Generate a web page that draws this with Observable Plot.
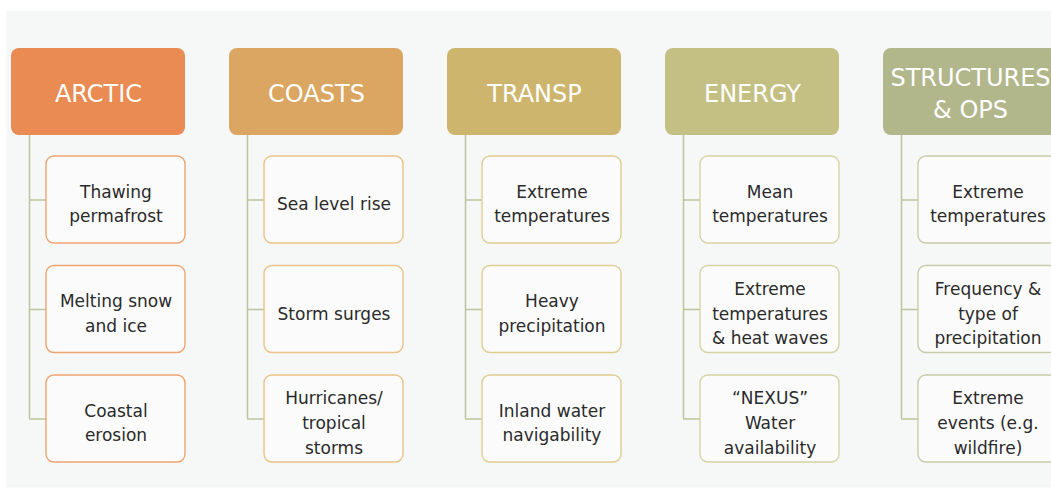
<!DOCTYPE html>
<html>
<head>
<meta charset="utf-8">
<script src="https://cdn.jsdelivr.net/npm/d3@7"></script>
<script src="https://cdn.jsdelivr.net/npm/@observablehq/plot@0.6"></script>
<style>
  html, body { margin: 0; padding: 0; background: #ffffff; overflow: hidden; }
  #chart svg { overflow: hidden; display: block; }
  g[aria-label="header-label"] text { letter-spacing: 0.5px; }
</style>
</head>
<body>
<div id="chart"></div>
<script>
// ---------- data ----------
const categories = ["ARCTIC", "COASTS", "TRANSP", "ENERGY", "STRUCTURES\n& OPS"];
const arcticImpacts = ["Thawing\npermafrost", "Melting snow\nand ice", "Coastal\nerosion"];
const coastsImpacts = ["Sea level rise", "Storm surges", "Hurricanes/\ntropical\nstorms"];
const transpImpacts = ["Extreme\ntemperatures", "Heavy\nprecipitation", "Inland water\nnavigability"];
const energyImpacts = ["Mean\ntemperatures", "Extreme\ntemperatures\n& heat waves", "\u201CNEXUS\u201D\nWater\navailability"];
const structuresImpacts = ["Extreme\ntemperatures", "Frequency &\ntype of\nprecipitation", "Extreme\nevents (e.g.\nwildfire)"];

// ---------- styles ----------
const headerColors = ["#e98b52", "#daa662", "#cdb56d", "#c4c083", "#b2b68b"];
const borderColors = ["#efa570", "#ecc286", "#dfcd91", "#d6d4a3", "#c9cca9"];
const lineColor = "#bcc49d";
const FONT = "DejaVu Sans";

// ---------- layout ----------
const W = 1051, H = 488;
const COL_X0 = 11, COL_STEP = 218, HEADER_W = 174;
const HEAD_Y1 = 48, HEAD_Y2 = 135;
const CHILD_OFF = 35, CHILD_W = 139, CHILD_Y1 = 156, ROW_STEP = 109.5, CHILD_H = 87;
const STEM_OFF = 18;
const colX = i => COL_X0 + COL_STEP * i;
const rowY = j => CHILD_Y1 + ROW_STEP * j;
const rowMid = j => rowY(j) + CHILD_H / 2;

const impactLists = [arcticImpacts, coastsImpacts, transpImpacts, energyImpacts, structuresImpacts];
const headers = categories.map((name, i) => ({name, col: i}));
const children = impactLists.flatMap((list, i) =>
  list.map((label, j) => ({name: categories[i], label, col: i, row: j})));

const childRects = categories.map((c, i) =>
  Plot.rect(children.filter(d => d.col === i), {
    x1: d => colX(d.col) + CHILD_OFF,
    x2: d => colX(d.col) + CHILD_OFF + CHILD_W,
    y1: d => rowY(d.row),
    y2: d => rowY(d.row) + CHILD_H,
    rx: 8,
    fill: "#fbfbfb",
    stroke: borderColors[i],
    strokeWidth: 1.4
  }));

const chart = Plot.plot({
  width: W,
  height: H,
  margin: 0,
  x: {domain: [0, W], range: [0, W], axis: null},
  y: {domain: [0, H], range: [0, H], axis: null},
  color: {domain: categories, range: headerColors},
  style: {background: "#ffffff", fontFamily: FONT},
  marks: [
    Plot.frame({fill: "#f6f7f7", stroke: "none", insetLeft: 6, insetTop: 10, insetBottom: 1}),
    Plot.ruleX(headers, {
      x: d => colX(d.col) + STEM_OFF,
      y1: () => HEAD_Y2,
      y2: () => rowMid(2),
      stroke: lineColor,
      strokeWidth: 1.5
    }),
    Plot.ruleY(children, {
      y: d => rowMid(d.row),
      x1: d => colX(d.col) + STEM_OFF,
      x2: d => colX(d.col) + CHILD_OFF,
      stroke: lineColor,
      strokeWidth: 1.5
    }),
    Plot.rect(headers, {
      x1: d => colX(d.col),
      x2: d => colX(d.col) + HEADER_W,
      y1: () => HEAD_Y1,
      y2: () => HEAD_Y2,
      rx: 8,
      fill: "name",
      ariaLabel: "header"
    }),
    Plot.text(headers, {
      x: d => colX(d.col) + HEADER_W / 2,
      y: () => (HEAD_Y1 + HEAD_Y2) / 2,
      text: "name",
      fill: "#ffffff",
      fontSize: 24,
      lineHeight: 1.33,
      fontFamily: FONT,
      ariaLabel: "header-label"
    }),
    ...childRects,
    Plot.text(children, {
      x: d => colX(d.col) + CHILD_OFF + CHILD_W / 2,
      y: d => rowMid(d.row) + 2,
      text: "label",
      fill: "#2a2a2a",
      fontSize: 17,
      lineHeight: 1.47,
      fontFamily: FONT
    })
  ]
});

// drop shadow for header boxes
const svg = d3.select(chart);
const defs = svg.insert("defs", ":first-child");
const f = defs.append("filter").attr("id", "hdrShadow")
  .attr("x", "-10%").attr("y", "-10%").attr("width", "120%").attr("height", "130%");
f.append("feDropShadow").attr("dx", 0).attr("dy", 3).attr("stdDeviation", 2)
  .attr("flood-color", "#000").attr("flood-opacity", 0.3);
svg.selectAll('g[aria-label="header"]').attr("filter", "url(#hdrShadow)");

document.getElementById("chart").appendChild(chart);
</script>
</body>
</html>
